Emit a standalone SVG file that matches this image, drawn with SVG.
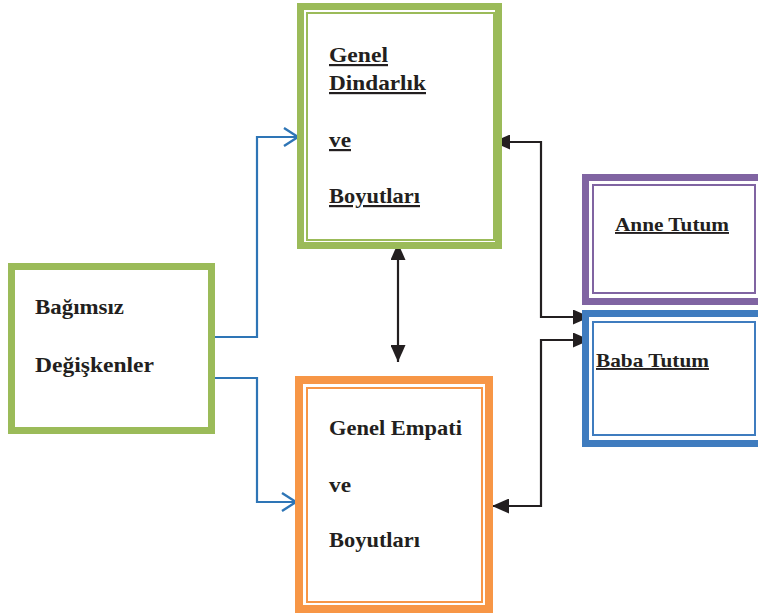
<svg xmlns="http://www.w3.org/2000/svg" width="758" height="616" viewBox="0 0 758 616">
<defs>
<style>
.t{font-family:"Liberation Serif","Times New Roman",serif;font-weight:bold;font-size:22px;fill:#231f20}
.s{font-size:19px}
.u{text-decoration:underline}
.blue{fill:none;stroke:#2e75b6;stroke-width:2.2}
.blk{fill:none;stroke:#231f20;stroke-width:2.2}
</style>
<marker id="open" viewBox="0 0 16 20" refX="15" refY="10" markerWidth="16" markerHeight="20" markerUnits="userSpaceOnUse" orient="auto">
<path d="M1,1 L15,10 L1,19" fill="none" stroke="#2e75b6" stroke-width="2.4"/>
</marker>
<marker id="tri" viewBox="0 0 17 15" refX="17" refY="7.5" markerWidth="17" markerHeight="15" markerUnits="userSpaceOnUse" orient="auto-start-reverse">
<path d="M0,0 L17,7.5 L0,15 Z" fill="#231f20"/>
</marker>
</defs>
<rect width="758" height="616" fill="#fff"/>
<g id="connectors">
<path class="blue" d="M215,337 H257 V137 H298" marker-end="url(#open)"/>
<path class="blue" d="M215,378 H257 V502 H296" marker-end="url(#open)"/>
<path class="blk" d="M398,243 V362" marker-start="url(#tri)" marker-end="url(#tri)"/>
<path class="blk" d="M493,142 H541 V317 H590" marker-start="url(#tri)" marker-end="url(#tri)"/>
<path class="blk" d="M492,506 H541 V340 H590" marker-start="url(#tri)" marker-end="url(#tri)"/>
</g>
<g id="bagimsiz">
<rect x="11.5" y="266.5" width="200" height="164" fill="#fff" stroke="#9bbb59" stroke-width="7"/>
<text class="t" x="35" y="314" textLength="89" lengthAdjust="spacingAndGlyphs">Bağımsız</text>
<text class="t" x="35" y="372" textLength="119" lengthAdjust="spacingAndGlyphs">Değişkenler</text>
</g>
<g id="dindarlik">
<rect x="300.5" y="6.5" width="198" height="239" fill="#fff" stroke="#9bbb59" stroke-width="7"/>
<rect x="307" y="13" width="187" height="227" fill="none" stroke="#9bbb59" stroke-width="2"/>
<text class="t u" x="329" y="62" textLength="59" lengthAdjust="spacingAndGlyphs">Genel</text>
<text class="t u" x="329" y="90" textLength="97" lengthAdjust="spacingAndGlyphs">Dindarlık</text>
<text class="t u" x="329" y="147" textLength="22" lengthAdjust="spacingAndGlyphs">ve</text>
<text class="t u" x="329" y="203" textLength="91" lengthAdjust="spacingAndGlyphs">Boyutları</text>
</g>
<g id="empati">
<rect x="299" y="380" width="190" height="229" fill="#fff" stroke="#f79646" stroke-width="8"/>
<rect x="307" y="388" width="175" height="214" fill="none" stroke="#f79646" stroke-width="2"/>
<text class="t" x="329" y="435" textLength="133" lengthAdjust="spacingAndGlyphs">Genel Empati</text>
<text class="t" x="329" y="492" textLength="22" lengthAdjust="spacingAndGlyphs">ve</text>
<text class="t" x="329" y="547" textLength="91" lengthAdjust="spacingAndGlyphs">Boyutları</text>
</g>
<g id="anne">
<rect x="585.5" y="177.5" width="180" height="124" fill="#fff" stroke="#8064a2" stroke-width="7"/>
<rect x="593" y="185" width="162" height="108" fill="none" stroke="#8064a2" stroke-width="2"/>
<text class="t s u" x="672" y="231" text-anchor="middle" textLength="114" lengthAdjust="spacingAndGlyphs">Anne Tutum</text>
</g>
<g id="baba">
<rect x="585.5" y="313.5" width="180" height="130" fill="#fff" stroke="#3f7cbf" stroke-width="7"/>
<rect x="593" y="322" width="162" height="113" fill="none" stroke="#3f7cbf" stroke-width="2"/>
<text class="t s u" x="596" y="367" textLength="113" lengthAdjust="spacingAndGlyphs">Baba Tutum</text>
</g>
</svg>
